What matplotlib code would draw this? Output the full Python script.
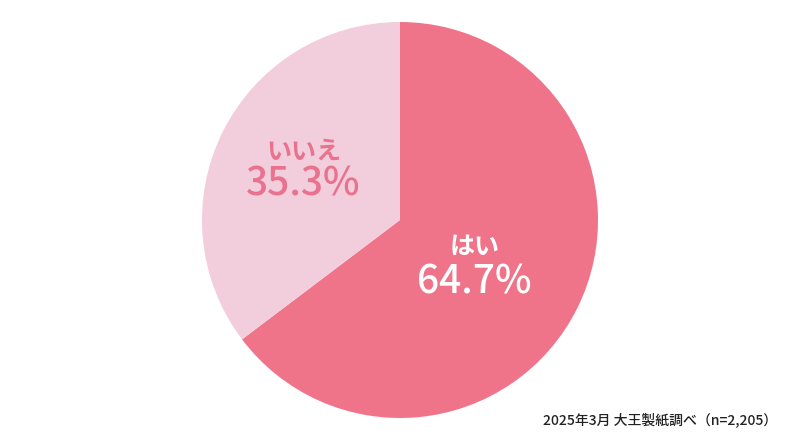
import matplotlib
matplotlib.use("Agg")
import matplotlib.pyplot as plt

plt.rcParams['font.family'] = ['Noto Sans CJK JP', 'DejaVu Sans']

# データ
labels = ["はい", "いいえ"]
values = [64.7, 35.3]
colors = ["#F07489", "#F2CDDC"]
text_colors = ["white", "#E9738F"]
note = "2025年3月 大王製紙調べ（n=2,205）"

fig = plt.figure(figsize=(8, 4.4), dpi=100)
ax = fig.add_axes([202 / 800, 22 / 440, 396 / 800, 396 / 440])
ax.pie(values, colors=colors, startangle=90, counterclock=False,
       wedgeprops=dict(linewidth=0))
ax.set_xlim(-1, 1)
ax.set_ylim(-1, 1)
ax.set_aspect("equal")

# ラベル位置 (figure座標)
label_pos = [(475 / 800, 1 - 247 / 440), (304 / 800, 1 - 152 / 440)]
pct_pos = [(474 / 800, 1 - 282 / 440), (303 / 800, 1 - 185 / 440)]
for i in range(len(labels)):
    fig.text(label_pos[i][0], label_pos[i][1], labels[i], color=text_colors[i],
             fontsize=18, fontweight="bold", ha="center", va="center")
    fig.text(pct_pos[i][0], pct_pos[i][1], "%.1f%%" % values[i], color=text_colors[i],
             fontsize=28, fontweight="medium", ha="center", va="center")

fig.text(777 / 800, 1 - 420 / 440, note, fontsize=10, fontweight="medium",
         ha="right", va="center", color="#222222")

fig.savefig("out.png", dpi=100)
